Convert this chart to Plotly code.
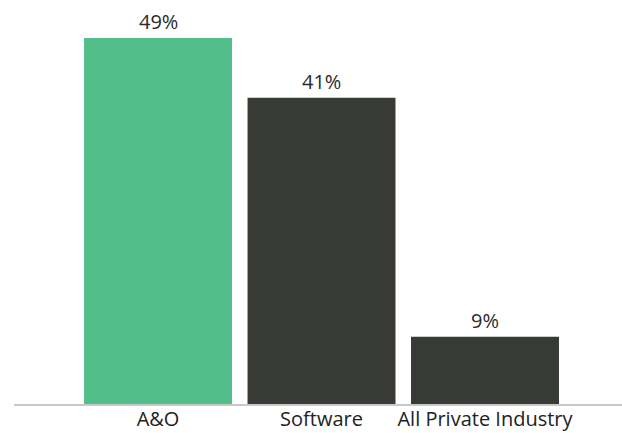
import plotly.graph_objects as go

categories = ["A&O", "Software", "All Private Industry"]
values = [49, 41, 9]
bar_colors = ["#52BE8A", "#383A35", "#383A35"]
labels = [f"{v}%" for v in values]

FONT = "Open Sans"

fig = go.Figure(
    go.Bar(
        x=categories,
        y=values,
        marker=dict(color=bar_colors, line=dict(width=0)),
        width=0.905,
        cliponaxis=False,
        hoverinfo="skip",
    )
)

# value labels above each bar
for cat, val, lab in zip(categories, values, labels):
    fig.add_annotation(
        x=cat,
        y=val,
        text=lab,
        showarrow=False,
        yanchor="bottom",
        yshift=1,
        font=dict(family=FONT, size=20, color="#2b2b2b"),
    )

fig.update_layout(
    width=622,
    height=433,
    margin=dict(l=14, r=0, t=0, b=29, autoexpand=False),
    paper_bgcolor="white",
    plot_bgcolor="white",
    font=dict(family=FONT, size=20, color="#222222"),
    showlegend=False,
    xaxis=dict(
        range=[-0.881, 2.838],
        automargin=False,
        showline=True,
        linecolor="#c8c8c8",
        linewidth=2,
        ticks="",
        showgrid=False,
        ticklabelstandoff=-4,
        tickfont=dict(family=FONT, size=20, color="#222222"),
    ),
    yaxis=dict(
        range=[0, 54.07],
        visible=False,
        automargin=False,
        showgrid=False,
        zeroline=False,
    ),
)

fig.write_html("out.html")
